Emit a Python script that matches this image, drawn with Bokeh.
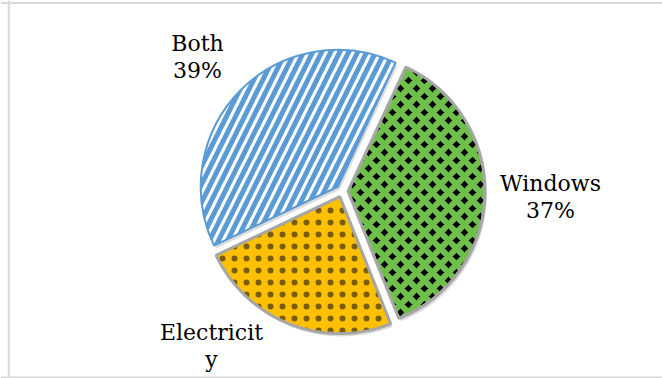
import numpy as np
from bokeh.plotting import figure
from bokeh.models import Range1d, Span
from bokeh.core.properties import value
from bokeh.embed import file_html
from bokeh.resources import INLINE

# Survey shares (percent), drawn clockwise from the first slice
categories = ["Windows", "Electricity", "Both"]
shares = [37, 24, 39]
# the Electricity label wraps and its last line falls below the chart area
label_lines = [["Windows", "37%"], ["Electricit", "y"], ["Both", "39%"]]

# label anchors (centre x, top of first line), in pixel-like plot units
label_x = [550, 211, 197]
label_top = [208, 59, 348]
line_step = 27.5

W, H = 662, 378
p = figure(width=W, height=H, output_backend="svg", toolbar_location=None,
           x_range=Range1d(0, W), y_range=Range1d(0, H), min_border=0,
           x_axis_type=None, y_axis_type=None, outline_line_color=None)
p.grid.visible = False
p.background_fill_color = "white"
p.border_fill_color = "white"

# chart-area frame (left, top, bottom edges)
frame_col = "#D9D9D9"
p.add_layout(Span(location=8.3, dimension="height", line_color=frame_col, line_width=2))
p.add_layout(Span(location=H - 2.5, dimension="width", line_color=frame_col, line_width=2))
p.add_layout(Span(location=H - 377, dimension="width", line_color=frame_col, line_width=2))

# pie geometry
cx, cy, radius, explode = 341.5, 187.5, 137, 6
first_angle = np.deg2rad(65)
spans = np.array(shares, dtype=float) / sum(shares) * 2 * np.pi
starts = first_angle - np.concatenate([[0.0], np.cumsum(spans)[:-1]])
ends = starts - spans
mids = (starts + ends) / 2
xs = cx + explode * np.cos(mids)
ys = cy + explode * np.sin(mids)

styles = [
    dict(fill_color="#000000", hatch_pattern="x", hatch_color="#6FC04B",
         hatch_scale=16, hatch_weight=6, line_color="#A6A6A6", line_width=3),
    dict(fill_color="#FFC000", hatch_pattern=".", hatch_color="#1a1a1a",
         hatch_scale=12, hatch_weight=0.1, hatch_alpha=0.6,
         line_color="#A6A6A6", line_width=3),
    dict(fill_color="#FFFFFF", hatch_pattern="/", hatch_color="#5B9BD5",
         hatch_scale=18, hatch_weight=5, line_color="#5B9BD5", line_width=2),
]

# soft drop shadow under each slice
for i in range(len(shares)):
    p.wedge(x=xs[i] + 2, y=ys[i] - 3, radius=radius, start_angle=starts[i],
            end_angle=ends[i], direction="clock", fill_color="#BFBFBF",
            fill_alpha=0.55, line_color=None)

for i, name in enumerate(categories):
    p.wedge(x=xs[i], y=ys[i], radius=radius, start_angle=starts[i],
            end_angle=ends[i], direction="clock", **styles[i])

# one text glyph per label line
tx, ty, tt = [], [], []
for x0, top, lines in zip(label_x, label_top, label_lines):
    for k, s in enumerate(lines):
        tx.append(x0)
        ty.append(top - k * line_step)
        tt.append(s)
p.text(x=tx, y=ty, text=tt, text_align="center", text_baseline="top",
       text_font=value("DejaVu Serif"), text_font_size="22px",
       text_color="#000000")

open("out.html", "w").write(file_html(p, INLINE))
